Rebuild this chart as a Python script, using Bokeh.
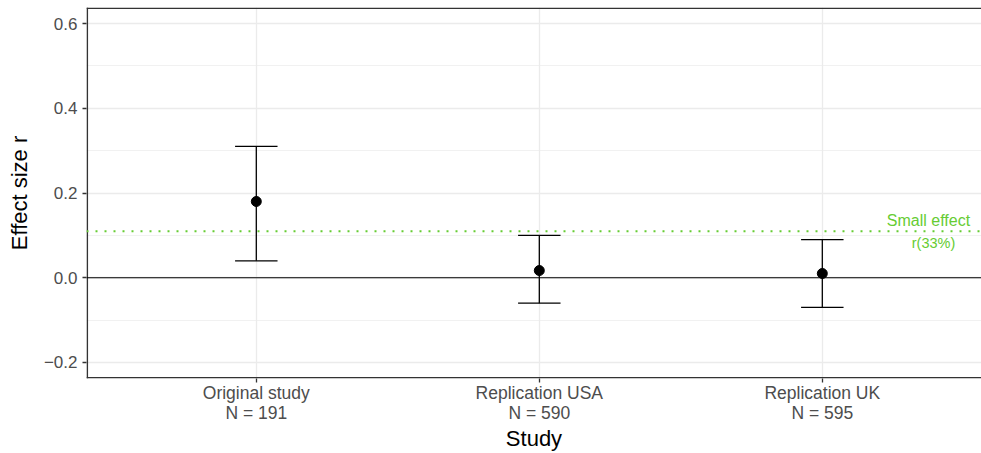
from bokeh.plotting import figure
from bokeh.models import FixedTicker, Range1d, Span, ColumnDataSource
from bokeh.core.properties import value
from bokeh.embed import file_html
from bokeh.resources import INLINE

studies = ["Original study\nN = 191", "Replication USA\nN = 590", "Replication UK\nN = 595"]
effect = [0.18, 0.017, 0.01]
ci_low = [0.04, -0.06, -0.07]
ci_high = [0.31, 0.10, 0.09]
small_effect = 0.11
y_ticks = [-0.2, 0.0, 0.2, 0.4, 0.6]
y_minor = [-0.1, 0.1, 0.3, 0.5]

xpos = [i + 1 for i in range(len(studies))]
cap = 0.075
src = ColumnDataSource(dict(
    x=xpos, y=effect, lo=ci_low, hi=ci_high,
    xl=[x - cap for x in xpos], xr=[x + cap for x in xpos],
))

GREEN = "#66CC33"
FONT = "Liberation Sans"
Y0, Y1 = -0.2378, 0.6378
X0, X1 = 0.4, 3.5625

p = figure(width=981, height=453, output_backend="svg", toolbar_location=None,
           x_range=Range1d(X0, X1), y_range=Range1d(Y0, Y1),
           min_border_left=86, min_border_right=0, min_border_top=7, min_border_bottom=75)

p.outline_line_color = None
p.background_fill_color = "white"

# grids
p.ygrid.ticker = FixedTicker(ticks=y_ticks, minor_ticks=y_minor)
p.ygrid.grid_line_color = "#EBEBEB"
p.ygrid.grid_line_width = 1.3
p.ygrid.minor_grid_line_color = "#EBEBEB"
p.ygrid.minor_grid_line_width = 0.7
p.xgrid.ticker = FixedTicker(ticks=xpos)
p.xgrid.grid_line_color = "#EBEBEB"
p.xgrid.grid_line_width = 1.3

# axes
p.yaxis.ticker = FixedTicker(ticks=y_ticks)
p.yaxis.major_label_overrides = {t: (f"{t:.1f}".replace("-", "\u2212")) for t in y_ticks}
p.xaxis.ticker = FixedTicker(ticks=xpos)
p.xaxis.major_label_overrides = {x: s for x, s in zip(xpos, studies)}
for ax in (p.xaxis[0], p.yaxis[0]):
    ax.axis_line_color = None
    ax.major_tick_line_color = "#333333"
    ax.major_tick_line_width = 1.3
    ax.major_tick_out = 4
    ax.major_tick_in = 0
    ax.minor_tick_line_color = None
    ax.major_label_text_color = "#4D4D4D"
    ax.axis_label_text_color = "black"
    ax.axis_label_text_font_style = "normal"

p.yaxis.major_label_text_font = FONT
p.yaxis.major_label_text_font_size = "17px"
p.yaxis.major_label_standoff = 5
p.yaxis.axis_label = "Effect size r"
p.yaxis.axis_label_text_font = FONT
p.yaxis.axis_label_text_font_size = "22px"
p.yaxis.axis_label_standoff = 9

p.xaxis.major_label_text_font = FONT
p.xaxis.major_label_text_font_size = "17.5px"
p.xaxis.major_label_text_line_height = 1.0
p.xaxis.major_label_standoff = 0
p.xaxis.axis_label = "Study"
p.xaxis.axis_label_text_font = FONT
p.xaxis.axis_label_text_font_size = "22px"
p.xaxis.axis_label_standoff = 0

# panel border (top, bottom, left; the right edge lies outside the window)
p.add_layout(Span(location=Y0 + 0.0018, dimension="width", line_color="#333333", line_width=1.6))
p.add_layout(Span(location=Y1 - 0.0018, dimension="width", line_color="#333333", line_width=1.6))
p.add_layout(Span(location=X0 + 0.0027, dimension="height", line_color="#333333", line_width=1.6))

# reference lines
p.add_layout(Span(location=0, dimension="width", line_color="black", line_width=1.2))
p.add_layout(Span(location=small_effect, dimension="width", line_color=GREEN,
                  line_width=2, line_dash="2 7"))

# error bars
p.segment(x0="x", y0="lo", x1="x", y1="hi", source=src, line_color="black", line_width=1.3)
p.segment(x0="xl", y0="lo", x1="xr", y1="lo", source=src, line_color="black", line_width=1.3)
p.segment(x0="xl", y0="hi", x1="xr", y1="hi", source=src, line_color="black", line_width=1.3)
p.scatter(x="x", y="y", source=src, size=10, color="black")

# annotation
p.text(x=[3.375], y=[0.135], text=["Small effect"], text_color=GREEN,
       text_font=value(FONT), text_font_size="16px",
       text_align="center", text_baseline="middle")
p.text(x=[3.393], y=[0.083], text=["r(33%)"], text_color=GREEN,
       text_font=value(FONT), text_font_size="14.5px",
       text_align="center", text_baseline="middle")

open("out.html", "w").write(file_html(p, INLINE))
